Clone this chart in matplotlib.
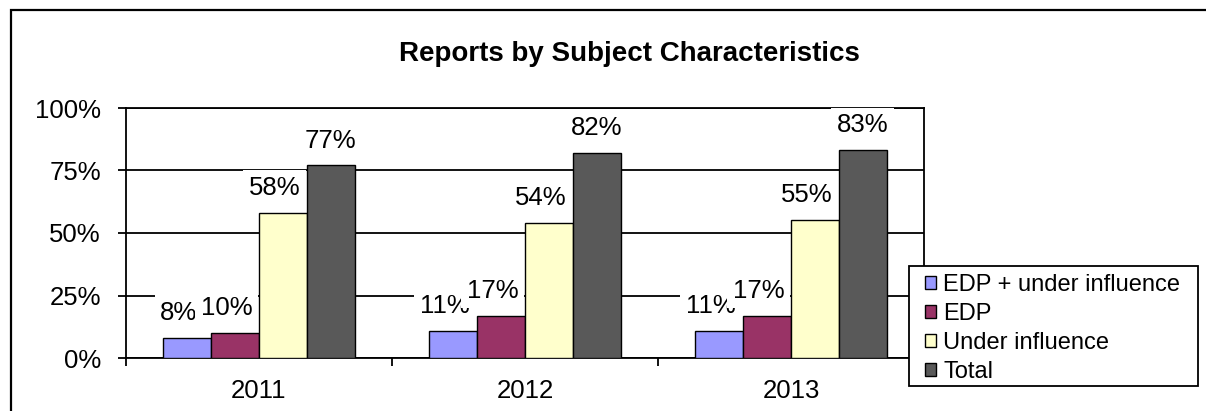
import numpy as np
import matplotlib
matplotlib.use("Agg")
import matplotlib.pyplot as plt
from matplotlib.patches import Rectangle

plt.rcParams["font.family"] = ["Liberation Sans", "DejaVu Sans"]

# Share of reports per subject characteristic, by year
years = ["2011", "2012", "2013"]
series_names = ["EDP + under influence", "EDP", "Under influence", "Total"]
edp_under_influence = [8, 11, 11]
edp = [10, 17, 17]
under_influence = [58, 54, 55]
total = [77, 82, 83]
colors = ["#9999FF", "#993366", "#FFFFCC", "#595959"]

series = [edp_under_influence, edp, under_influence, total]
fs = 18.5
W, H = 1206, 411

fig = plt.figure(figsize=(12.06, 4.11), dpi=100)
ax = fig.add_axes([126 / W, 53 / H, 798 / W, 250 / H])

# outer chart border (runs off the right and bottom edges)
fig.patches.append(Rectangle((11 / W, -0.1), 1.2, 1 - 10 / H + 0.1,
                             transform=fig.transFigure, fill=False,
                             edgecolor="black", linewidth=1.6))

x = np.arange(len(years))
width = 0.18
offsets = (np.arange(len(series)) - 1.5) * width

for i, (vals, name, col) in enumerate(zip(series, series_names, colors)):
    bars = ax.bar(x + offsets[i], vals, width, color=col, edgecolor="black",
                  linewidth=1.0, label=name, zorder=5)
    # the smaller series' labels sit a little left of their bars
    dx = 0 if i == len(series) - 1 else -6
    for b, v in zip(bars, vals):
        ax.annotate(f"{v}%", (b.get_x() + b.get_width() / 2, v),
                    xytext=(dx, 18), textcoords="offset points",
                    ha="center", va="center", fontsize=fs, zorder=4,
                    bbox=dict(boxstyle="square,pad=0.22", facecolor="white",
                              edgecolor="none"))

ax.set_xlim(-0.5, 2.5)
ax.set_ylim(0, 100)
ax.set_yticks([0, 25, 50, 75, 100])
ax.set_yticklabels(["0%", "25%", "50%", "75%", "100%"], fontsize=fs)
ax.set_xticks(x)
ax.set_xticklabels(years, fontsize=fs)
ax.set_xticks([-0.5, 0.5, 1.5, 2.5], minor=True)
ax.tick_params(axis="x", which="major", length=0, pad=15)
ax.tick_params(axis="x", which="minor", length=6, width=1.3, direction="out")
ax.tick_params(axis="y", length=6, width=1.3, direction="out", pad=12)

ax.yaxis.grid(True, color="black", linewidth=1.3, zorder=1)
ax.set_axisbelow(True)
for s in ax.spines.values():
    s.set_linewidth(1.3)
    s.set_zorder(2.5)

fig.text(0.522, 1 - 54 / H, "Reports by Subject Characteristics",
         ha="center", va="center", fontsize=20, fontweight="bold")

# legend box drawn separately so its padding can differ from the text spacing
legend_box = Rectangle((909 / W, 1 - 386 / H), 289 / W, 120 / H,
                       transform=fig.transFigure, facecolor="white",
                       edgecolor="black", linewidth=1.3, zorder=6)
fig.patches.append(legend_box)

leg = fig.legend(loc="upper left", bbox_to_anchor=(925 / W, 1 - 274 / H),
                 fontsize=17, frameon=False, borderpad=0, labelspacing=0.3,
                 handlelength=0.47, handleheight=0.47, handletextpad=0.3,
                 borderaxespad=0)
leg.set_zorder(7)
for h in leg.legend_handles:
    h.set_linewidth(1.0)

fig.savefig("out.png", dpi=100)
